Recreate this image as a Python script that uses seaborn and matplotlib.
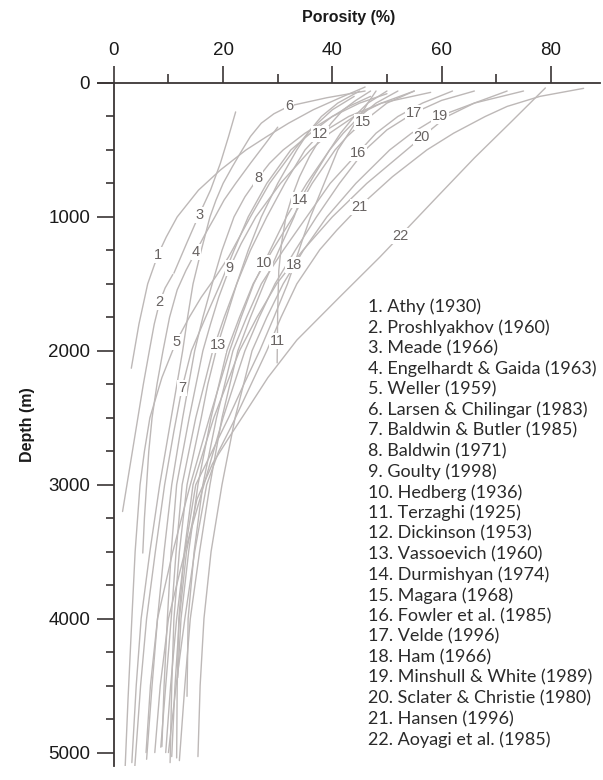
import numpy as np
import pandas as pd
import matplotlib
matplotlib.use("Agg")
import matplotlib.pyplot as plt
import seaborn as sns

# ---- data (porosity %, depth m) ----
names = ["Athy (1930)", "Proshlyakhov (1960)", "Meade (1966)", "Engelhardt & Gaida (1963)",
         "Weller (1959)", "Larsen & Chilingar (1983)", "Baldwin & Butler (1985)", "Baldwin (1971)",
         "Goulty (1998)", "Hedberg (1936)", "Terzaghi (1925)", "Dickinson (1953)",
         "Vassoevich (1960)", "Durmishyan (1974)", "Magara (1968)", "Fowler et al. (1985)",
         "Velde (1996)", "Ham (1966)", "Minshull & White (1989)", "Sclater & Christie (1980)",
         "Hansen (1996)", "Aoyagi et al. (1985)"]

c1_z = [30, 100, 200, 300, 400, 500, 650, 800, 1000, 1150, 1280, 1500, 1800, 2130]
c1_p = [46, 42, 36.5, 32, 28, 24.2, 19.5, 15.5, 11.6, 9.6, 8.1, 6.2, 4.6, 3.2]
c2_z = [1430, 1530, 1634, 1800, 2000, 2250, 2500, 2750, 3000, 3200]
c2_p = [10.8, 9.4, 8.4, 7.4, 6.5, 5.4, 4.4, 3.4, 2.4, 1.6]
c3_z = [216, 400, 600, 800, 985, 1200, 1420]
c3_p = [22.3, 21, 19.5, 17.7, 15.6, 13.3, 11.0]
c4_z = [330, 450, 600, 750, 873, 1000, 1130, 1261, 1400, 1545, 1750, 2000, 2250, 2500, 2750, 3000, 3250, 3510]
c4_p = [30, 27.8, 25, 22.3, 20.2, 18.5, 16.7, 15, 13.2, 11.6, 10.2, 9.0, 7.9, 7.0, 6.4, 6.0, 5.6, 5.3]
c5_z = [100, 200, 350, 500, 750, 1000, 1150, 1300, 1450, 1600, 1750, 1933, 2200, 2500, 2750, 3000, 3500, 4000, 4600, 5180]
c5_p = [44, 40, 36, 33, 28.5, 25, 23, 21, 18.6, 16, 13.8, 11.4, 8.8, 6.6, 5.6, 4.8, 3.9, 3.3, 2.6, 2.0]
c6_z = [60, 110, 172, 230, 300, 400, 500, 625, 750, 875, 1000, 1250, 1500, 1750, 2000, 2500, 3000, 3500, 4000, 4500, 5075]
c6_p = [46, 39, 32.1, 29.3, 27, 25, 23.5, 21.7, 20, 18.7, 17.6, 16, 14.5, 13.5, 12.6, 10.5, 8.4, 6.6, 5.0, 4.1, 3.3]
c7_z = [100, 175, 250, 375, 500, 750, 1000, 1250, 1500, 1750, 2000, 2276, 2600, 3000, 3500, 4000, 4500, 5130]
c7_p = [47, 43, 40, 36, 32.4, 28, 24.6, 22, 19.5, 16.8, 14.2, 12.5, 11, 9.3, 7.6, 6.0, 4.9, 3.8]
c8_z = [80, 150, 250, 375, 500, 600, 709, 850, 1000, 1250, 1500, 1750, 2000, 2500, 3000, 3500, 4000, 4500, 5050]
c8_p = [50, 45, 40, 35, 31, 28.5, 26.4, 24, 22, 19.8, 18, 16.3, 14.8, 12.6, 10.6, 9.2, 8.0, 7.0, 6.0]
c9_z = [60, 150, 250, 375, 500, 750, 1000, 1200, 1381, 1600, 1800, 2000, 2500, 3000, 3500, 4000, 4500, 4955]
c9_p = [55, 49, 44, 39.5, 36, 30.5, 26, 23.3, 21.2, 19.2, 17.7, 16.3, 13.8, 11.5, 10.5, 9.8, 9.2, 8.8]
c10_z = [60, 150, 250, 375, 500, 750, 1000, 1175, 1343, 1500, 1750, 2000, 2500, 3000, 3500, 4000, 4500, 5000]
c10_p = [52, 48, 45, 42, 39.5, 35.3, 31.6, 29.5, 27.5, 25.6, 23.3, 21.2, 17.5, 14.0, 10.8, 8.0, 6.7, 5.9]
c11_z = [60, 130, 200, 300, 400, 550, 700, 850, 1000, 1200, 1400, 1700, 2090]
c11_p = [47, 44.3, 42, 39.8, 38, 35.8, 34, 32.6, 31.5, 30.7, 30.2, 30.0, 29.9]
c12_z = [70, 150, 250, 381, 500, 750, 1000, 1250, 1500, 1750, 2000, 2500, 3000, 3500, 4000, 4500, 4960]
c12_p = [58, 49, 43, 37.7, 35, 31.3, 28, 25, 22.5, 20.2, 18.1, 15, 12.5, 11.4, 10.5, 9.5, 8.6]
c13_z = [60, 150, 250, 375, 500, 750, 1000, 1250, 1500, 1750, 1955, 2250, 2500, 3000, 3500, 4000, 4500, 5075]
c13_p = [45, 41, 38, 35.5, 33.5, 30, 27, 24.6, 22.5, 20.6, 19, 17.2, 16, 13.4, 12, 11.0, 10.6, 10.3]
c14_z = [60, 150, 250, 375, 500, 700, 873, 1000, 1250, 1500, 1750, 2000, 2500, 3000, 3500, 4000, 4500, 5060]
c14_p = [50, 46.5, 44, 41.5, 39.5, 36.5, 34.1, 33, 30.2, 27.5, 25, 22.7, 19.8, 17.6, 15.7, 14.0, 13.0, 12.0]
c15_z = [60, 150, 291, 400, 500, 750, 1000, 1250, 1500, 1750, 2000, 2500, 3000, 3500, 4000, 4440]
c15_p = [55, 50, 45.6, 42.7, 40.5, 36.3, 32.8, 29, 25.5, 23, 20.7, 17.8, 15.4, 13.7, 12.3, 11.7]
c16_z = [60, 150, 250, 375, 522, 750, 1000, 1250, 1500, 1750, 2000, 2500, 3000, 3500, 4000, 4580]
c16_p = [62, 56.5, 52, 48, 44.7, 39.6, 35.3, 31, 27, 24.3, 21.8, 18.8, 16.3, 14.7, 13.6, 13.4]
c17_z = [60, 130, 224, 350, 500, 750, 1000, 1250, 1500, 1750, 2000, 2500, 3000, 3500, 4000, 4500, 5000]
c17_p = [66, 60, 54.9, 50, 46, 41.3, 37.1, 33.2, 29.5, 26.6, 24, 20, 16.5, 13, 10, 8.5, 7.5]
c18_z = [60, 150, 250, 375, 500, 750, 1000, 1175, 1358, 1500, 1750, 2000, 2250, 2500, 2750, 3000, 3500, 4000, 4500, 5000]
c18_p = [48, 46.5, 45, 43, 41, 38.5, 36, 34.5, 33, 31.8, 29.3, 26.7, 23.8, 21, 18, 15, 13, 11.5, 10.4, 9.5]
c19_z = [60, 150, 246, 375, 500, 750, 1000, 1250, 1500, 1750, 2000, 2500, 3000, 3500, 4000, 4500, 5030]
c19_p = [75, 66, 59.7, 54.5, 50.5, 44.3, 39, 34.7, 31, 28, 25.3, 22.2, 19.8, 17.8, 16.5, 15.8, 15.4]
c20_z = [60, 150, 250, 403, 500, 750, 1000, 1250, 1500, 1750, 2000, 2500, 3000, 3500, 4000, 4500, 5040]
c20_p = [72, 66, 61, 56.4, 53.6, 46.3, 40, 34.6, 29.8, 26.2, 23, 18.3, 14.5, 12.9, 11.9, 11.6, 11.5]
c21_z = [40, 100, 175, 250, 375, 500, 700, 925, 1100, 1245, 1500, 1750, 2000, 2270, 2540, 2750, 3000, 3500, 4000, 4500, 5000]
c21_p = [86, 78, 72, 68, 62.2, 57.3, 51, 44.9, 40.8, 37.7, 33.5, 30.6, 28, 24.9, 21.8, 19.2, 17, 14.8, 13, 11.4, 10]
c22_z = [37, 300, 560, 850, 1142, 1300, 1600, 1920, 2200, 2440, 2640, 2840, 3110, 3500, 4000, 4500, 5030]
c22_p = [79, 72.5, 66, 59.2, 52.4, 48.7, 41.3, 33.5, 28.2, 24.4, 21.2, 18.1, 15.2, 13.3, 12.0, 11.2, 10.6]

depths = [c1_z, c2_z, c3_z, c4_z, c5_z, c6_z, c7_z, c8_z, c9_z, c10_z, c11_z,
          c12_z, c13_z, c14_z, c15_z, c16_z, c17_z, c18_z, c19_z, c20_z, c21_z, c22_z]
poros = [c1_p, c2_p, c3_p, c4_p, c5_p, c6_p, c7_p, c8_p, c9_p, c10_p, c11_p,
         c12_p, c13_p, c14_p, c15_p, c16_p, c17_p, c18_p, c19_p, c20_p, c21_p, c22_p]

# label anchor (porosity, depth) for each curve number
label_p = [8.1, 8.4, 15.6, 15.0, 11.4, 32.1, 12.5, 26.4, 21.2, 27.5, 30.0,
           37.7, 19.0, 34.1, 45.6, 44.7, 54.9, 33.0, 59.7, 56.4, 44.9, 52.4]
label_z = [1284, 1634, 985, 1261, 1933, 172, 2276, 709, 1381, 1343, 1925,
           381, 1955, 873, 291, 522, 224, 1358, 246, 403, 925, 1142]

rows = []
for i, (zs, ps) in enumerate(zip(depths, poros)):
    for k, (z, p) in enumerate(zip(zs, ps)):
        rows.append({"curve": i + 1, "order": k, "Porosity": p, "Depth": z})
df = pd.DataFrame(rows)

# ---- figure ----
sns.set_theme(style="white")
plt.rcParams['font.family'] = ['Liberation Sans', 'DejaVu Sans']

fig = plt.figure(figsize=(6.03, 7.8), dpi=100)
ax = fig.add_axes([0.1625, 0.018, 0.8325, 0.8756])

line_col = "#bdb8b7"
sns.lineplot(data=df, x="Porosity", y="Depth", hue="curve", units="curve",
             estimator=None, sort=False, palette=[line_col] * 22, legend=False,
             linewidth=1.0, ax=ax)

for i in range(22):
    ax.text(label_p[i], label_z[i], str(i + 1), fontsize=10.5, color="#686362",
            ha="center", va="center",
            bbox=dict(facecolor="white", edgecolor="none", pad=0.5))

ax.set_xlim(-2.9, 89)
ax.set_ylim(5100, 0)

ax.xaxis.tick_top()
ax.xaxis.set_label_position("top")
ax.set_xticks([0, 20, 40, 60, 80])
ax.set_xticks([10, 30, 50, 70], minor=True)
ax.set_yticks([0, 1000, 2000, 3000, 4000, 5000])
ax.set_yticks(np.arange(250, 5100, 250), minor=True)
ax.tick_params(axis="x", which="major", length=12, width=1.2, color="#3a3535",
               labelsize=13.5, labelcolor="#1a1a1a", pad=5, direction="out")
ax.tick_params(axis="x", which="minor", length=6.5, width=1.2, color="#3a3535", direction="out")
ax.tick_params(axis="y", which="major", length=12, width=1.2, color="#3a3535",
               labelsize=13.5, labelcolor="#1a1a1a", pad=5, direction="out", left=True)
ax.tick_params(axis="y", which="minor", length=6, width=1.2, color="#3a3535",
               direction="out", left=True)

for s in ["right", "bottom"]:
    ax.spines[s].set_visible(False)
ax.spines["top"].set_color("#3a3535")
ax.spines["top"].set_linewidth(1.3)
ax.spines["left"].set_color("#3a3535")
ax.spines["left"].set_linewidth(1.3)
ax.spines["left"].set_position(("data", 0))

ax.set_xlabel("Porosity (%)", fontsize=11.5, fontweight="bold", labelpad=15, color="#1a1a1a")
ax.set_ylabel("Depth (m)", fontsize=11.5, fontweight="bold", color="#1a1a1a")
ax.yaxis.set_label_coords(-0.125, 0.5)
ax.grid(False)

# legend list of sources
for i, nm in enumerate(names):
    fig.text(368 / 603, 1 - (307 + i * 20.6) / 780, f"{i + 1}. {nm}", fontsize=13.0,
             color="#2a2a2a", ha="left", va="center", family=["Lato", "DejaVu Sans"])

fig.savefig("out.png", dpi=100, facecolor="white")
